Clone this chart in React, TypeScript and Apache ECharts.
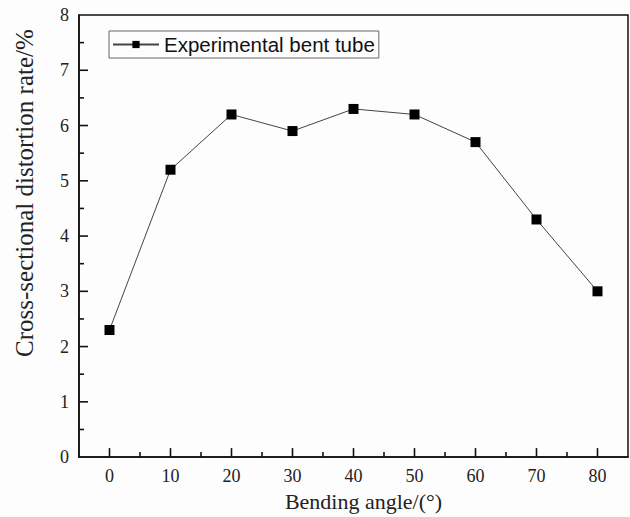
import React, { useEffect, useRef } from "react";
import * as echarts from "echarts";

const angles = [0, 10, 20, 30, 40, 50, 60, 70, 80];
const distortion = [2.3, 5.2, 6.2, 5.9, 6.3, 6.2, 5.7, 4.3, 3.0];
const xMajorTicks = [0, 10, 20, 30, 40, 50, 60, 70, 80];
const xMinorTicks = [5, 15, 25, 35, 45, 55, 65, 75];
const yMajorTicks = [1, 2, 3, 4, 5, 6, 7];
const yMinorTicks = [0.5, 1.5, 2.5, 3.5, 4.5, 5.5, 6.5, 7.5];
const seriesName = "Experimental bent tube";

const X_MIN = -5;
const X_MAX = 85;

export default function App() {
  const ref = useRef<HTMLDivElement>(null);
  useEffect(() => {
    if (!ref.current) return;
    const chart = echarts.init(ref.current, null, { renderer: "svg" });
    const serif = "'Liberation Serif', 'Times New Roman', serif";
    const tickLine = { color: "#111", width: 1.5 };

    const tickSeries = (data: number[][], dir: "x" | "y", len: number) => ({
      type: "custom",
      silent: true,
      clip: false,
      z: 5,
      data,
      renderItem: (params: any, api: any) => {
        const p = api.coord([api.value(0), api.value(1)]);
        const shape =
          dir === "x"
            ? { x1: p[0], y1: p[1], x2: p[0], y2: p[1] - len }
            : { x1: p[0], y1: p[1], x2: p[0] + len, y2: p[1] };
        return { type: "line", shape, style: { stroke: "#111", lineWidth: 1.6 } };
      },
    });

    chart.setOption({
      animation: false,
      backgroundColor: "#fdfdfd",
      grid: {
        left: 79,
        top: 15,
        right: 2,
        bottom: 59,
        show: true,
        borderColor: "#111",
        borderWidth: 1.5,
        backgroundColor: "transparent",
      },
      legend: {
        left: 109,
        top: 31,
        padding: [3, 4, 3, 3],
        borderColor: "#666",
        borderWidth: 1,
        itemWidth: 46,
        itemHeight: 9,
        textStyle: { fontFamily: "'Liberation Sans', Arial, sans-serif", fontSize: 20.5, color: "#111" },
        data: [seriesName],
      },
      xAxis: {
        type: "value",
        min: X_MIN,
        max: X_MAX,
        interval: 5,
        position: "bottom",
        axisLine: { show: true, onZero: false, lineStyle: tickLine },
        axisTick: { show: false },
        axisLabel: {
          fontFamily: serif,
          fontSize: 18,
          color: "#222",
          margin: 10,
          showMinLabel: false,
          showMaxLabel: false,
          formatter: (v: number) => (xMajorTicks.includes(v) ? String(v) : ""),
        },
        splitLine: { show: false },
        name: "Bending angle/(°)",
        nameLocation: "middle",
        nameGap: 32,
        nameTextStyle: { fontFamily: serif, fontSize: 22, color: "#222", padding: [0, 0, 0, 20] },
      },
      yAxis: {
        type: "value",
        min: 0,
        max: 8,
        interval: 1,
        axisLine: { show: true, onZero: false, lineStyle: tickLine },
        axisTick: { show: false },
        axisLabel: { fontFamily: serif, fontSize: 18, color: "#222", margin: 10 },
        splitLine: { show: false },
        name: "Cross-sectional distortion rate/%",
        nameLocation: "middle",
        nameGap: 42,
        nameTextStyle: { fontFamily: serif, fontSize: 25, color: "#222", padding: [0, 0, 0, 86] },
      },
      series: [
        {
          name: seriesName,
          type: "line",
          data: angles.map((a, i) => [a, distortion[i]]),
          symbol: "rect",
          symbolSize: 10,
          z: 10,
          itemStyle: { color: "#000" },
          lineStyle: { color: "#444", width: 1 },
        },
        tickSeries(xMajorTicks.map((v) => [v, 0]), "x", 9),
        tickSeries(xMinorTicks.map((v) => [v, 0]), "x", 5),
        tickSeries(yMajorTicks.map((v) => [X_MIN, v]), "y", 9),
        tickSeries(yMinorTicks.map((v) => [X_MIN, v]), "y", 5),
      ],
    });
    return () => chart.dispose();
  }, []);
  return <div ref={ref} style={{ width: 630, height: 517, position: "absolute", left: 0, top: 0 }} />;
}
